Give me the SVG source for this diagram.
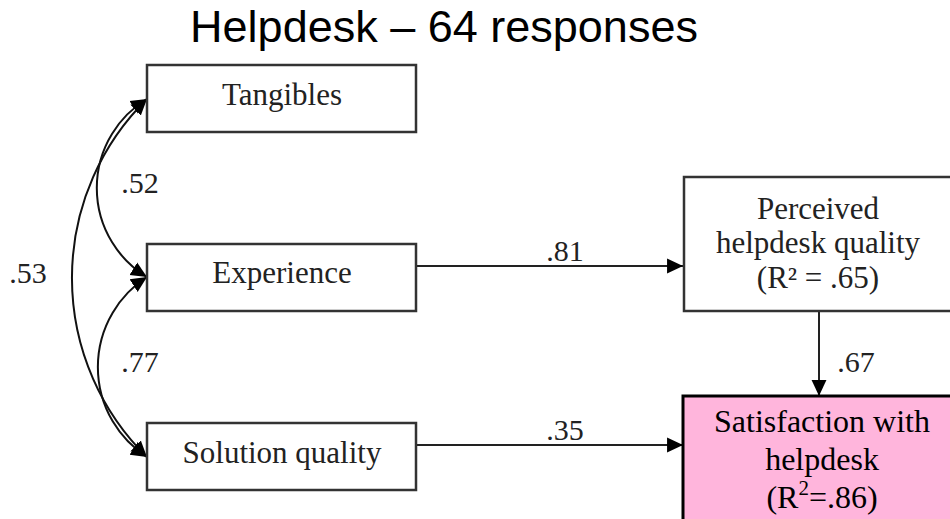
<svg xmlns="http://www.w3.org/2000/svg" width="950" height="519" viewBox="0 0 950 519">
<style>
.box{fill:#fff;stroke:#333;stroke-width:2.5}
.pink{fill:#FFB5DC;stroke:#000;stroke-width:3}
.t{font-family:"Liberation Serif","Times New Roman",serif;font-size:31px;fill:#222;text-anchor:middle}
.s{font-size:32px;fill:#000}
.lbl{font-family:"Liberation Serif","Times New Roman",serif;font-size:30px;fill:#222;text-anchor:middle}
.title{font-family:"Liberation Sans",Arial,sans-serif;font-size:45px;fill:#000;text-anchor:middle}
.edge{fill:none;stroke:#222;stroke-width:2}
.cov{fill:none;stroke:#111;stroke-width:2;marker-start:url(#ah);marker-end:url(#ah)}
</style>
<defs>
<marker id="ah" markerUnits="userSpaceOnUse" markerWidth="17" markerHeight="17" viewBox="0 0 16 14" refX="15" refY="7" orient="auto-start-reverse">
<path d="M0,0 L15,7 L0,14 z" fill="#000"/>
</marker>
</defs>
<rect width="950" height="519" fill="#fff"/>
<text class="title" x="444" y="42">Helpdesk – 64 responses</text>

<g id="connectors">
<path class="cov" d="M147,99 A104,104 0 0 0 147,277"/>
<path class="cov" d="M147,277 A107,107 0 0 0 147,457"/>
<path class="cov" d="M147,99 A251,251 0 0 0 147,457"/>
<path class="edge" d="M416,266 L683,266" marker-end="url(#ah)"/>
<path class="edge" d="M416,445 L683,445" marker-end="url(#ah)"/>
<path class="edge" d="M819,311 L819,396" marker-end="url(#ah)"/>
<text class="lbl" x="140" y="193">.52</text>
<text class="lbl" x="28" y="283">.53</text>
<text class="lbl" x="140" y="372">.77</text>
<text class="lbl" x="565" y="261">.81</text>
<text class="lbl" x="565" y="440">.35</text>
<text class="lbl" x="856" y="372">.67</text>
</g>

<g id="tangibles">
<rect class="box" x="147" y="65" width="269" height="67"/>
<text class="t" x="282" y="105">Tangibles</text>
</g>
<g id="experience">
<rect class="box" x="147" y="244" width="269" height="67"/>
<text class="t" x="282" y="283">Experience</text>
</g>
<g id="solution">
<rect class="box" x="147" y="423" width="269" height="67"/>
<text class="t" x="282" y="463">Solution quality</text>
</g>
<g id="perceived">
<rect class="box" x="684" y="177" width="272" height="134"/>
<text class="t" x="818" y="219">Perceived</text>
<text class="t" x="818" y="253">helpdesk quality</text>
<text class="t" x="818" y="288">(R² = .65)</text>
</g>
<g id="satisfaction">
<rect class="pink" x="683" y="396" width="275" height="130"/>
<text class="t s" x="822" y="432">Satisfaction with</text>
<text class="t s" x="822" y="470">helpdesk</text>
<text class="t s" x="822" y="508">(R<tspan font-size="21" dy="-13">2</tspan><tspan dy="13">=.86)</tspan></text>
</g>
</svg>
